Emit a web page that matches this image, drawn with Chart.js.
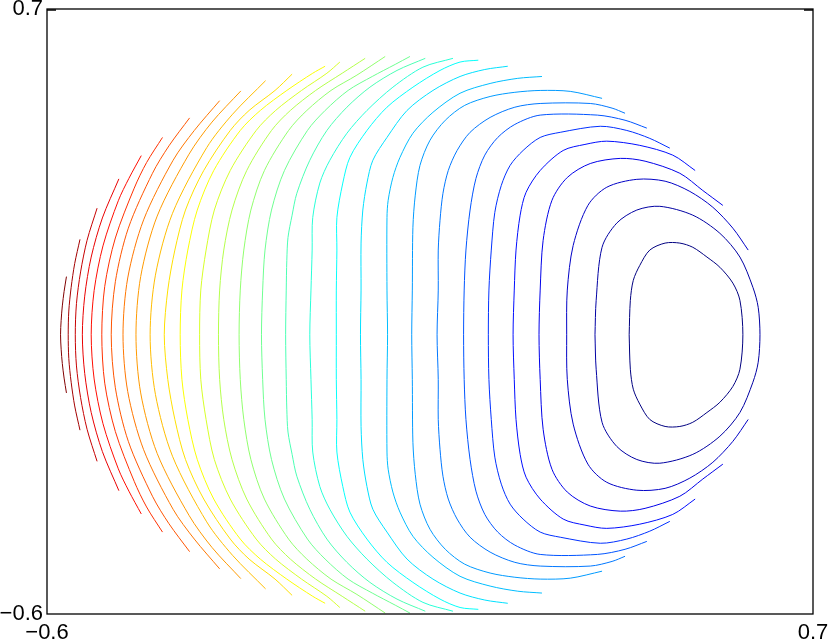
<!DOCTYPE html>
<html>
<head>
<meta charset="utf-8">
<script src="https://cdn.jsdelivr.net/npm/chart.js@4.4.0/dist/chart.umd.min.js"></script>
<style>
  html, body { margin: 0; padding: 0; background: #fff; }
</style>
</head>
<body>
<canvas id="chart" width="830" height="641"></canvas>
<script>
// axis ticks (only the ends are labelled)
const xTicks = [-0.6, 0.7];
const yTicks = [-0.6, 0.7];

// contour lines: outermost red (left) to innermost blue loop
const c01 = [[-0.567,0.125],[-0.571,0.093],[-0.574,0.062],[-0.576,0.031],[-0.577,0],[-0.576,-0.031],[-0.574,-0.062],[-0.571,-0.093],[-0.567,-0.125]];
const c02 = [[-0.544,0.205],[-0.553,0.153],[-0.559,0.102],[-0.563,0.051],[-0.564,0],[-0.563,-0.051],[-0.559,-0.102],[-0.553,-0.153],[-0.544,-0.205]];
const c03 = [[-0.515,0.272],[-0.532,0.203],[-0.543,0.135],[-0.550,0.067],[-0.552,0],[-0.550,-0.067],[-0.543,-0.135],[-0.532,-0.203],[-0.515,-0.272]];
const c04 = [[-0.478,0.335],[-0.506,0.251],[-0.525,0.167],[-0.536,0.083],[-0.540,0],[-0.536,-0.083],[-0.525,-0.167],[-0.506,-0.251],[-0.478,-0.335]];
const c05 = [[-0.440,0.385],[-0.461,0.336],[-0.479,0.288],[-0.505,0.191],[-0.520,0.095],[-0.525,0],[-0.520,-0.095],[-0.505,-0.191],[-0.479,-0.288],[-0.461,-0.336],[-0.440,-0.385]];
const c06 = [[-0.404,0.424],[-0.431,0.370],[-0.452,0.315],[-0.484,0.208],[-0.502,0.104],[-0.507,0],[-0.502,-0.104],[-0.484,-0.208],[-0.452,-0.315],[-0.431,-0.370],[-0.404,-0.424]];
const c07 = [[-0.358,0.466],[-0.393,0.406],[-0.421,0.347],[-0.462,0.229],[-0.484,0.114],[-0.491,0],[-0.484,-0.114],[-0.462,-0.229],[-0.421,-0.347],[-0.393,-0.406],[-0.358,-0.466]];
const c08 = [[-0.307,0.503],[-0.350,0.439],[-0.386,0.375],[-0.436,0.247],[-0.463,0.122],[-0.471,0],[-0.463,-0.122],[-0.436,-0.247],[-0.386,-0.375],[-0.350,-0.439],[-0.307,-0.503]];
const c09 = [[-0.271,0.524],[-0.320,0.457],[-0.359,0.388],[-0.413,0.255],[-0.441,0.125],[-0.449,0],[-0.441,-0.125],[-0.413,-0.255],[-0.359,-0.388],[-0.320,-0.457],[-0.271,-0.524]];
const c10 = [[-0.229,0.546],[-0.285,0.474],[-0.329,0.402],[-0.387,0.261],[-0.416,0.128],[-0.425,0],[-0.416,-0.128],[-0.387,-0.261],[-0.329,-0.402],[-0.285,-0.474],[-0.229,-0.546]];
const c11 = [[-0.184,0.560],[-0.213,0.525],[-0.257,0.482],[-0.289,0.439],[-0.334,0.353],[-0.365,0.268],[-0.383,0.182],[-0.395,0.096],[-0.401,0],[-0.395,-0.096],[-0.383,-0.182],[-0.365,-0.268],[-0.334,-0.353],[-0.289,-0.439],[-0.257,-0.482],[-0.213,-0.525],[-0.184,-0.560]];
const c12 = [[-0.128,0.577],[-0.149,0.562],[-0.193,0.525],[-0.238,0.482],[-0.272,0.439],[-0.317,0.353],[-0.345,0.268],[-0.361,0.182],[-0.371,0.096],[-0.374,0],[-0.371,-0.096],[-0.361,-0.182],[-0.345,-0.268],[-0.317,-0.353],[-0.272,-0.439],[-0.238,-0.482],[-0.193,-0.525],[-0.149,-0.562],[-0.128,-0.577]];
const c13 = [[-0.103,0.586],[-0.125,0.562],[-0.168,0.525],[-0.212,0.482],[-0.245,0.439],[-0.289,0.353],[-0.316,0.268],[-0.330,0.182],[-0.339,0.096],[-0.341,0],[-0.339,-0.096],[-0.330,-0.182],[-0.316,-0.268],[-0.289,-0.353],[-0.245,-0.439],[-0.212,-0.482],[-0.168,-0.525],[-0.125,-0.562],[-0.103,-0.586]];
const c14 = [[-0.060,0.594],[-0.099,0.562],[-0.144,0.525],[-0.187,0.482],[-0.219,0.439],[-0.261,0.353],[-0.286,0.268],[-0.300,0.182],[-0.307,0.096],[-0.309,0],[-0.307,-0.096],[-0.300,-0.182],[-0.286,-0.268],[-0.261,-0.353],[-0.219,-0.439],[-0.187,-0.482],[-0.144,-0.525],[-0.099,-0.562],[-0.060,-0.594]];
const c15 = [[-0.026,0.598],[-0.074,0.558],[-0.118,0.525],[-0.159,0.482],[-0.190,0.439],[-0.231,0.353],[-0.254,0.268],[-0.266,0.182],[-0.272,0.096],[-0.274,0],[-0.272,-0.096],[-0.266,-0.182],[-0.254,-0.268],[-0.231,-0.353],[-0.190,-0.439],[-0.159,-0.482],[-0.118,-0.525],[-0.074,-0.558],[-0.026,-0.598]];
const c16 = [[0.016,0.598],[-0.009,0.581],[-0.048,0.555],[-0.089,0.525],[-0.128,0.482],[-0.158,0.439],[-0.197,0.353],[-0.219,0.268],[-0.230,0.182],[-0.234,0.096],[-0.236,0],[-0.234,-0.096],[-0.230,-0.182],[-0.219,-0.268],[-0.197,-0.353],[-0.158,-0.439],[-0.128,-0.482],[-0.089,-0.525],[-0.048,-0.555],[-0.009,-0.581],[0.016,-0.598]];
const c17 = [[0.042,0.594],[-0.006,0.568],[-0.052,0.532],[-0.091,0.489],[-0.125,0.439],[-0.154,0.375],[-0.176,0.304],[-0.184,0.257],[-0.191,0.209],[-0.193,0.160],[-0.194,0.096],[-0.195,0],[-0.194,-0.096],[-0.193,-0.160],[-0.191,-0.209],[-0.184,-0.257],[-0.176,-0.304],[-0.154,-0.375],[-0.125,-0.439],[-0.091,-0.489],[-0.052,-0.532],[-0.006,-0.568],[0.042,-0.594]];
const c18 = [[0.089,0.594],[0.038,0.575],[-0.013,0.532],[-0.057,0.482],[-0.091,0.433],[-0.120,0.375],[-0.137,0.326],[-0.149,0.252],[-0.150,0.182],[-0.152,0.096],[-0.154,0],[-0.152,-0.096],[-0.150,-0.182],[-0.149,-0.252],[-0.137,-0.326],[-0.120,-0.375],[-0.091,-0.433],[-0.057,-0.482],[-0.013,-0.532],[0.038,-0.575],[0.089,-0.594]];
const c19 = [[0.132,0.590],[0.101,0.586],[0.067,0.568],[0.021,0.532],[-0.023,0.489],[-0.057,0.439],[-0.086,0.381],[-0.098,0.326],[-0.108,0.252],[-0.108,0.182],[-0.109,0.096],[-0.109,0],[-0.109,-0.096],[-0.108,-0.182],[-0.108,-0.252],[-0.098,-0.326],[-0.086,-0.381],[-0.057,-0.439],[-0.023,-0.489],[0.021,-0.532],[0.067,-0.568],[0.101,-0.586],[0.132,-0.590]];
const c20 = [[0.182,0.577],[0.143,0.570],[0.101,0.555],[0.055,0.525],[0.011,0.482],[-0.023,0.424],[-0.047,0.375],[-0.057,0.326],[-0.064,0.268],[-0.067,0.197],[-0.067,0.096],[-0.068,0],[-0.067,-0.096],[-0.067,-0.197],[-0.064,-0.268],[-0.057,-0.326],[-0.047,-0.375],[-0.023,-0.424],[0.011,-0.482],[0.055,-0.525],[0.101,-0.555],[0.143,-0.570],[0.182,-0.577]];
const c21 = [[0.240,0.555],[0.199,0.551],[0.152,0.540],[0.101,0.519],[0.055,0.478],[0.021,0.433],[-0.001,0.381],[-0.013,0.338],[-0.021,0.289],[-0.023,0.252],[-0.023,0.096],[-0.022,0],[-0.023,-0.096],[-0.023,-0.252],[-0.021,-0.289],[-0.013,-0.338],[-0.001,-0.381],[0.021,-0.433],[0.055,-0.478],[0.101,-0.519],[0.152,-0.540],[0.199,-0.551],[0.240,-0.555]];
const c22 = [[0.342,0.508],[0.288,0.523],[0.237,0.525],[0.194,0.521],[0.152,0.512],[0.109,0.493],[0.076,0.461],[0.050,0.418],[0.033,0.364],[0.025,0.300],[0.021,0.231],[0.020,0.096],[0.019,0],[0.020,-0.096],[0.021,-0.231],[0.025,-0.300],[0.033,-0.364],[0.050,-0.418],[0.076,-0.461],[0.109,-0.493],[0.152,-0.512],[0.194,-0.521],[0.237,-0.525],[0.288,-0.523],[0.342,-0.508]];
const c23 = [[0.381,0.476],[0.359,0.487],[0.322,0.497],[0.237,0.497],[0.194,0.489],[0.152,0.467],[0.118,0.435],[0.096,0.396],[0.081,0.353],[0.072,0.304],[0.067,0.246],[0.064,0.182],[0.064,0.096],[0.062,0],[0.064,-0.096],[0.064,-0.182],[0.067,-0.246],[0.072,-0.304],[0.081,-0.353],[0.096,-0.396],[0.118,-0.435],[0.152,-0.467],[0.194,-0.489],[0.237,-0.497],[0.322,-0.497],[0.359,-0.487],[0.381,-0.476]];
const c24 = [[0.418,0.444],[0.381,0.461],[0.334,0.472],[0.237,0.472],[0.194,0.452],[0.165,0.424],[0.143,0.386],[0.128,0.336],[0.118,0.268],[0.111,0.182],[0.108,0.096],[0.107,0],[0.108,-0.096],[0.111,-0.182],[0.118,-0.268],[0.128,-0.336],[0.143,-0.386],[0.165,-0.424],[0.194,-0.452],[0.237,-0.472],[0.334,-0.472],[0.381,-0.461],[0.418,-0.444]];
const c25 = [[0.457,0.401],[0.423,0.422],[0.384,0.439],[0.339,0.448],[0.271,0.435],[0.237,0.424],[0.208,0.396],[0.186,0.364],[0.171,0.321],[0.160,0.263],[0.154,0.182],[0.150,0.096],[0.149,0],[0.150,-0.096],[0.154,-0.182],[0.160,-0.263],[0.171,-0.321],[0.186,-0.364],[0.208,-0.396],[0.237,-0.424],[0.271,-0.435],[0.339,-0.448],[0.384,-0.439],[0.423,-0.422],[0.457,-0.401]];
const c26 = [[0.500,0.353],[0.462,0.386],[0.406,0.407],[0.350,0.416],[0.313,0.409],[0.276,0.396],[0.237,0.353],[0.213,0.306],[0.203,0.257],[0.196,0.182],[0.193,0.096],[0.191,0],[0.193,-0.096],[0.196,-0.182],[0.203,-0.257],[0.213,-0.306],[0.237,-0.353],[0.276,-0.396],[0.313,-0.409],[0.350,-0.416],[0.406,-0.407],[0.462,-0.386],[0.500,-0.353]];
const c27 = [[0.547,0.278],[0.513,0.310],[0.474,0.347],[0.415,0.373],[0.373,0.379],[0.322,0.368],[0.283,0.338],[0.257,0.289],[0.242,0.203],[0.237,0.096],[0.235,0],[0.237,-0.096],[0.242,-0.203],[0.257,-0.289],[0.283,-0.338],[0.322,-0.368],[0.373,-0.379],[0.415,-0.373],[0.474,-0.347],[0.513,-0.310],[0.547,-0.278]];
const c28 = [[0.590,0.182],[0.564,0.229],[0.530,0.274],[0.491,0.308],[0.449,0.330],[0.401,0.334],[0.350,0.317],[0.318,0.278],[0.293,0.192],[0.283,0.096],[0.282,0],[0.283,-0.096],[0.293,-0.192],[0.318,-0.278],[0.350,-0.317],[0.401,-0.334],[0.449,-0.330],[0.491,-0.308],[0.530,-0.274],[0.564,-0.229],[0.590,-0.182]];
const c29 = [[0.330,0],[0.332,0.074],[0.342,0.188],[0.367,0.240],[0.401,0.268],[0.440,0.276],[0.496,0.257],[0.542,0.218],[0.576,0.167],[0.598,0.102],[0.607,0.059],[0.610,0],[0.607,-0.059],[0.598,-0.102],[0.576,-0.167],[0.542,-0.218],[0.496,-0.257],[0.440,-0.276],[0.401,-0.268],[0.367,-0.240],[0.342,-0.188],[0.332,-0.074],[0.330,0]];
const c30 = [[0.388,0],[0.390,0.074],[0.395,0.117],[0.406,0.149],[0.423,0.182],[0.449,0.197],[0.474,0.197],[0.496,0.188],[0.520,0.167],[0.542,0.145],[0.564,0.111],[0.576,0.074],[0.581,0],[0.576,-0.074],[0.564,-0.111],[0.542,-0.145],[0.520,-0.167],[0.496,-0.188],[0.474,-0.197],[0.449,-0.197],[0.423,-0.182],[0.406,-0.149],[0.395,-0.117],[0.390,-0.074],[0.388,0]];

const contours = [c01, c02, c03, c04, c05, c06, c07, c08, c09, c10,
                  c11, c12, c13, c14, c15, c16, c17, c18, c19, c20,
                  c21, c22, c23, c24, c25, c26, c27, c28, c29, c30];

// jet colormap: first contour is the highest level (dark red), last the lowest (dark blue)
function jet(t) {
  const c = v => Math.round(255 * Math.max(0, Math.min(1, v)));
  return `rgb(${c(1.5 - Math.abs(4 * t - 3))},${c(1.5 - Math.abs(4 * t - 2))},${c(1.5 - Math.abs(4 * t - 1))})`;
}

const datasets = contours.map((pts, i) => ({
  data: pts.map(p => ({ x: p[0], y: p[1] })),
  showLine: true,
  borderColor: jet(1 - i / (contours.length - 1)),
  borderWidth: 1,
  pointRadius: 0,
  tension: 0.3,
  fill: false,
}));

const fmt = v => (v < 0 ? '\u2212' : '') + Math.abs(v).toFixed(1);
const tickFont = { family: 'Liberation Sans, Arial, sans-serif', size: 22 };

// axes box with MATLAB-style inward ticks
const frame = {
  id: 'frame',
  afterDraw(chart) {
    const { ctx, chartArea: a } = chart;
    ctx.save();
    ctx.strokeStyle = '#000';
    ctx.lineWidth = 1.3;
    ctx.strokeRect(a.left, a.top, a.right - a.left, a.bottom - a.top);
    ctx.beginPath();
    ctx.moveTo(a.left, a.top + 1); ctx.lineTo(a.left + 9, a.top + 1);
    ctx.moveTo(a.right, a.top + 1); ctx.lineTo(a.right - 9, a.top + 1);
    ctx.stroke();
    ctx.restore();
  }
};

new Chart(document.getElementById('chart'), {
  type: 'scatter',
  data: { datasets },
  options: {
    responsive: false,
    animation: false,
    layout: { padding: { top: 9, right: 17, left: 0, bottom: 0 } },
    plugins: { legend: { display: false }, tooltip: { enabled: false } },
    scales: {
      x: {
        type: 'linear', min: -0.6, max: 0.7,
        grid: { display: false, drawTicks: false },
        border: { display: false },
        afterBuildTicks: s => { s.ticks = xTicks.map(v => ({ value: v })); },
        afterFit: s => { s.height = 27; s.paddingLeft = 0; s.paddingRight = 0; },
        ticks: { padding: 6, color: '#000', font: tickFont, maxRotation: 0, autoSkip: false, callback: fmt }
      },
      y: {
        type: 'linear', min: -0.6, max: 0.7,
        grid: { display: false, drawTicks: false },
        border: { display: false },
        afterBuildTicks: s => { s.ticks = yTicks.map(v => ({ value: v })); },
        afterFit: s => { s.width = 47; s.paddingTop = 0; s.paddingBottom = 0; },
        ticks: { padding: 4, color: '#000', font: tickFont, autoSkip: false, callback: fmt }
      }
    }
  },
  plugins: [frame]
});
</script>
</body>
</html>
